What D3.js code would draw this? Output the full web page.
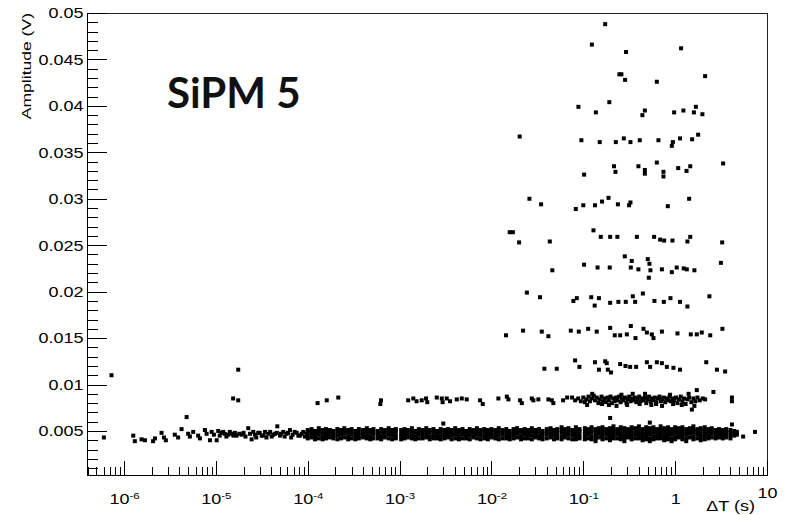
<!DOCTYPE html>
<html>
<head>
<meta charset="utf-8">
<script src="https://cdn.jsdelivr.net/npm/d3@7"></script>
<style>
  body { margin: 0; background: #fff; }
  svg { display: block; }
  .axis text { font-family: "Liberation Sans", Arial, sans-serif; font-size: 15px; fill: #000; }
  .axis line, .axis path { stroke: #000; shape-rendering: crispEdges; }
</style>
</head>
<body>
<svg id="chart"></svg>
<script>
// tick labels
const xMajorTicks = [1e-6, 1e-5, 1e-4, 1e-3, 1e-2, 1e-1, 1, 10];
const xTickLabels = [["10", "-6"], ["10", "-5"], ["10", "-4"], ["10", "-3"], ["10", "-2"], ["10", "-1"], ["1", ""], ["10", ""]];
const yMajorTicks = [0.005, 0.01, 0.015, 0.02, 0.025, 0.03, 0.035, 0.04, 0.045, 0.05];
const yTickLabels = ["0.005", "0.01", "0.015", "0.02", "0.025", "0.03", "0.035", "0.04", "0.045", "0.05"];

// [dT (s), amplitude (V)] -- isolated points
const isolatedPts = [
  [6.03e-7, .0043], [7.3e-7, .011], [1.75e-5, .0116], [1.54e-5, .0085], [1.75e-5, .0083], [4.8e-6, .0065],
  [5.5, .0044], [7.4, .0049], [0.196, .0064], [0.53, .0059], [4.15, .0057], [2.99e-3, .0058]
];

// sparse start of the baseline band (1e-6 .. 1e-4)
const tailPts = [
  [1.26e-6, .0045], [1.31e-6, .0039], [1.55e-6, .0041], [1.69e-6, .004], [2.07e-6, .0039], [2.17e-6, .0042],
  [2.56e-6, .0048], [2.72e-6, .0043], [2.85e-6, .004], [3.57e-6, .0046], [3.88e-6, .0043], [4.23e-6, .0052],
  [4.99e-6, .0047], [5.21e-6, .0044], [5.66e-6, .0049], [6.41e-6, .0045], [6.7e-6, .0042], [7.59e-6, .0051],
  [7.92e-6, .0047], [8.61e-6, .004], [8.98e-6, .0049], [9.51e-6, .0046], [1.02e-5, .004], [1.06e-5, .005],
  [1.15e-5, .0048], [1.25e-5, .0047], [1.36e-5, .0046], [1.48e-5, .0047], [1.61e-5, .0048], [1.68e-5, .0045],
  [1.91e-5, .0046], [2.25e-5, .0053], [2.35e-5, .0047], [2.45e-5, .0041], [2.66e-5, .0046], [2.89e-5, .0048],
  [3.15e-5, .0045], [3.42e-5, .0049], [3.72e-5, .0047], [4.05e-5, .0044], [4.4e-5, .0047], [4.66e-5, .0055],
  [4.98e-5, .0045], [5.41e-5, .0049], [5.89e-5, .0047], [6.4e-5, .0051], [6.85e-5, .0046], [7.57e-5, .0048],
  [8.22e-5, .0045], [8.94e-5, .0049], [9.72e-5, .0047],
  [1.1e-5, .0045], [1.2e-5, .0049], [1.3e-5, .0044], [1.42e-5, .0049], [1.55e-5, .0045], [1.8e-5, .0047],
  [2.0e-5, .0048], [2.1e-5, .0044], [2.55e-5, .0049], [2.75e-5, .0043], [3.0e-5, .0048], [3.3e-5, .0045],
  [3.55e-5, .0043], [3.9e-5, .0049], [4.2e-5, .0046], [4.6e-5, .0048], [5.1e-5, .0047], [5.6e-5, .0044],
  [6.1e-5, .0048], [6.6e-5, .0043], [7.2e-5, .0049], [7.9e-5, .0045], [8.6e-5, .0047], [9.3e-5, .0044]
];

// dense baseline band: [dT, amplitudes...]
const bandCols = [
  [1.0e-4, .0051, .0048, .0045, .0042], [1.1e-4, .0052, .0049, .0046, .0043], [1.2e-4, .0050, .0047, .0044, .0041],
  [1.32e-4, .0053, .0049, .0046, .0042], [1.45e-4, .0051, .0048, .0044, .0041], [1.58e-4, .0052, .0048, .0045, .0042],
  [1.74e-4, .0051, .0049, .0046, .0043], [1.9e-4, .0050, .0047, .0045, .0042], [2.1e-4, .0052, .0049, .0045, .0041],
  [2.3e-4, .0051, .0048, .0046, .0042], [2.5e-4, .0053, .0050, .0047, .0043], [2.75e-4, .0051, .0048, .0044, .0041],
  [3.0e-4, .0052, .0049, .0046, .0042], [3.3e-4, .0050, .0047, .0044, .0041], [3.6e-4, .0052, .0048, .0045, .0042],
  [4.0e-4, .0051, .0049, .0046, .0043], [4.4e-4, .0053, .0049, .0045, .0042], [4.8e-4, .0051, .0048, .0044, .0041],
  [5.2e-4, .0052, .0049, .0046, .0042], [5.8e-4, .0050, .0048, .0045, .0042], [6.3e-4, .0052, .0048, .0044, .0041],
  [6.9e-4, .0051, .0049, .0046, .0043], [7.6e-4, .0053, .0050, .0046, .0042], [8.3e-4, .0051, .0048, .0045, .0041],
  [9.1e-4, .0052, .0049, .0045, .0042],
  [1.04e-3, .0051, .0047, .0044, .0041], [1.13e-3, .0052, .0048, .0045, .0042], [1.23e-3, .0051, .0049, .0046, .0043],
  [1.36e-3, .0053, .0049, .0045, .0042], [1.48e-3, .0050, .0048, .0044, .0041], [1.62e-3, .0052, .0049, .0046, .0042],
  [1.78e-3, .0051, .0048, .0045, .0042], [1.95e-3, .0053, .0050, .0046, .0043], [2.13e-3, .0051, .0048, .0044, .0041],
  [2.34e-3, .0052, .0049, .0045, .0042], [2.56e-3, .0050, .0047, .0045, .0042], [2.8e-3, .0052, .0048, .0044, .0041],
  [3.07e-3, .0051, .0048, .0045, .0042], [3.36e-3, .0052, .0049, .0046, .0043], [3.68e-3, .0051, .0048, .0045, .0041],
  [4.03e-3, .0053, .0049, .0046, .0042], [4.42e-3, .0051, .0048, .0044, .0041], [4.84e-3, .0052, .0049, .0046, .0042],
  [5.3e-3, .0050, .0047, .0045, .0042], [5.8e-3, .0052, .0049, .0045, .0041], [6.35e-3, .0051, .0048, .0046, .0043],
  [6.95e-3, .0053, .0050, .0046, .0042], [7.6e-3, .0051, .0048, .0045, .0041], [8.35e-3, .0052, .0049, .0045, .0042],
  [9.15e-3, .0051, .0047, .0044, .0041],
  [1.0e-2, .0052, .0049, .0046, .0043], [1.1e-2, .0051, .0048, .0045, .0042], [1.2e-2, .0053, .0049, .0045, .0041],
  [1.32e-2, .0051, .0048, .0046, .0042], [1.45e-2, .0052, .0049, .0045, .0042], [1.58e-2, .0050, .0047, .0044, .0041],
  [1.74e-2, .0052, .0048, .0045, .0042], [1.9e-2, .0053, .0050, .0047, .0043], [2.1e-2, .0051, .0048, .0044, .0041],
  [2.3e-2, .0052, .0049, .0046, .0042], [2.5e-2, .0051, .0048, .0045, .0042], [2.75e-2, .0053, .0049, .0045, .0041],
  [3.0e-2, .0051, .0048, .0046, .0043], [3.3e-2, .0052, .0049, .0045, .0042], [3.6e-2, .0050, .0047, .0044, .0041],
  [4.0e-2, .0052, .0049, .0046, .0042], [4.4e-2, .0053, .0050, .0046, .0043], [4.8e-2, .0051, .0048, .0045, .0041],
  [5.2e-2, .0052, .0049, .0045, .0042], [5.8e-2, .0054, .0051, .0048, .0044, .0041], [6.3e-2, .0052, .0049, .0046, .0043],
  [6.9e-2, .0053, .0050, .0046, .0042], [7.6e-2, .0051, .0048, .0045, .0041], [8.3e-2, .0054, .0050, .0047, .0044, .0041],
  [9.1e-2, .0052, .0049, .0045, .0042],
  [0.104, .0053, .0050, .0047, .0044, .0041], [0.113, .0052, .0049, .0046, .0042], [0.123, .0054, .0051, .0048, .0044, .0041],
  [0.136, .0052, .0049, .0045, .0042, .0039], [0.148, .0053, .0050, .0047, .0043], [0.162, .0054, .0051, .0047, .0044, .0041],
  [0.178, .0052, .0049, .0046, .0042], [0.195, .0053, .0050, .0046, .0043, .0040], [0.213, .0055, .0051, .0048, .0045, .0042],
  [0.234, .0052, .0049, .0046, .0042], [0.256, .0054, .0050, .0047, .0044, .0041], [0.28, .0053, .0049, .0045, .0042, .0039],
  [0.307, .0052, .0049, .0046, .0043], [0.336, .0054, .0051, .0047, .0044, .0041], [0.368, .0053, .0050, .0046, .0042],
  [0.403, .0055, .0051, .0048, .0045, .0042], [0.442, .0052, .0049, .0046, .0043, .0040], [0.484, .0054, .0050, .0047, .0044, .0041],
  [0.53, .0053, .0049, .0046, .0042, .0039], [0.58, .0054, .0051, .0048, .0044, .0041], [0.635, .0052, .0049, .0045, .0042],
  [0.695, .0055, .0051, .0048, .0045, .0042], [0.76, .0053, .0050, .0046, .0043, .0040], [0.835, .0054, .0050, .0047, .0044, .0041],
  [0.915, .0052, .0049, .0046, .0042, .0039],
  [1.0, .0054, .0051, .0048, .0044, .0041], [1.1, .0053, .0050, .0046, .0043], [1.2, .0054, .0050, .0047, .0044, .0041],
  [1.32, .0052, .0049, .0046, .0042, .0039], [1.45, .0053, .0050, .0047, .0043], [1.58, .0055, .0051, .0048, .0044, .0041],
  [1.74, .0052, .0049, .0046, .0042], [1.9, .0053, .0050, .0046, .0043, .0040], [2.1, .0054, .0050, .0047, .0044, .0041],
  [2.3, .0052, .0049, .0045, .0042], [2.5, .0053, .0050, .0047, .0043], [2.75, .0051, .0048, .0045, .0042],
  [3.0, .0052, .0049, .0046, .0043], [3.3, .0051, .0048, .0045, .0042], [3.6, .0052, .0049, .0046, .0043],
  [4.0, .0051, .0048, .0045, .0042], [4.4, .0050, .0047, .0045], [4.7, .0049, .0046]
];

// second band around 8 mV
const row8Pts = [
  [1.28e-4, .008], [1.61e-4, .0083], [2.15e-4, .0086], [6.27e-4, .0083], [6.17e-4, .0079], [1.24e-3, .0083],
  [1.41e-3, .0085], [1.53e-3, .0082], [1.74e-3, .0083], [1.94e-3, .0085], [2.0e-3, .0081], [2.54e-3, .0086],
  [2.88e-3, .0085], [3.26e-3, .0085], [2.94e-3, .0081], [3.54e-3, .0082], [4.19e-3, .0084], [4.75e-3, .0085],
  [5.38e-3, .0084], [7.52e-3, .0083], [8.04e-3, .0079], [1.19e-2, .0085], [1.47e-2, .0087], [1.53e-2, .0084],
  [2.05e-2, .0083], [2.14e-2, .008], [2.75e-2, .0085], [2.86e-2, .0083], [3.24e-2, .0084], [4.17e-2, .0084],
  [4.54e-2, .0083], [4.72e-2, .008], [6.03e-2, .0083], [6.67e-2, .0086], [7.55e-2, .0086], [8.14e-2, .0083],
  [0.088, .0085], [0.094, .0082], [0.1, .0086], [0.104, .0081], [0.108, .0084], [0.114, .0087], [0.118, .0082],
  [0.124, .0085], [0.13, .0088], [0.134, .0083], [0.14, .0086], [0.146, .008], [0.15, .0084], [0.158, .0087],
  [0.164, .0082], [0.17, .0085], [0.178, .0081], [0.184, .0086], [0.19, .0083], [0.198, .0087], [0.205, .008],
  [0.212, .0085], [0.22, .0082], [0.228, .0086], [0.236, .0083], [0.245, .0087], [0.255, .0081], [0.264, .0085],
  [0.274, .0083], [0.284, .0086], [0.295, .008], [0.305, .0084], [0.316, .0087], [0.328, .0082], [0.34, .0085],
  [0.352, .0083], [0.365, .0086], [0.378, .0081], [0.392, .0084], [0.406, .0087], [0.42, .0082], [0.436, .0085],
  [0.452, .0083], [0.468, .0086], [0.485, .008], [0.5, .0084], [0.52, .0087], [0.54, .0082], [0.56, .0085],
  [0.58, .0083], [0.6, .0086], [0.625, .0081], [0.65, .0085], [0.675, .0087], [0.7, .0082], [0.725, .0084],
  [0.75, .0086], [0.78, .0081], [0.81, .0085], [0.84, .0083], [0.87, .0087], [0.9, .0082], [0.94, .0085],
  [0.98, .0083], [1.02, .0086], [1.06, .008], [1.1, .0084], [1.15, .0087], [1.2, .0082], [1.25, .0085],
  [1.3, .0079], [1.36, .0084], [1.42, .0086], [1.5, .0081], [1.52, .0073], [1.58, .0085], [1.66, .0082],
  [1.72, .0094], [1.75, .0086], [1.85, .0083], [2.0, .0085], [2.12, .0084], [2.61, .0092], [4.15, .0086], [4.15, .0082],
  [0.11, .0078], [0.16, .0079], [0.23, .0077], [0.3, .0078], [0.41, .0079], [0.55, .0078], [0.72, .0077],
  [0.95, .0079], [1.18, .0078], [0.125, .009], [0.26, .0089], [0.47, .009], [0.88, .0089], [1.4, .009],
  [0.19, .0078], [0.62, .0079], [1.62, .0077], [0.345, .009]
];

// upper levels (10 mV .. 50 mV)
const upperPts = [
  [0.173, .0488], [0.124, .0466], [0.292, .0458], [1.16, .0462],
  [0.247, .0434], [0.26, .0434], [0.285, .0428], [0.632, .0426], [2.12, .0432],
  [0.0203, .0367],
  [0.0885, .0399], [0.137, .0393], [0.192, .0404], [0.468, .0395], [0.44, .039], [0.975, .0393], [1.23, .0395],
  [1.68, .0399], [1.6, .0393], [1.98, .0391],
  [0.0953, .0363], [0.151, .0361], [0.226, .0361], [0.276, .0365], [0.326, .0361], [0.412, .0363], [0.658, .0363],
  [0.944, .0361], [0.92, .0357], [1.13, .0365], [1.53, .0364], [1.78, .0369],
  [0.216, .0335], [0.224, .0329], [0.102, .0326], [0.398, .0335], [0.468, .0331], [0.468, .0327], [0.632, .0339],
  [0.746, .0329], [0.746, .0324], [1.08, .0333], [1.33, .033], [1.46, .0335], [3.33, .0338],
  [0.0259, .03], [0.188, .0301], [1.42, .03], [0.0347, .0294], [0.0828, .0289], [0.1, .0293], [0.134, .0293],
  [0.16, .0297], [0.238, .0294], [0.315, .0293], [0.326, .0296], [0.832, .0292],
  [0.0158, .0264], [0.0171, .0264], [0.02, .0253], [0.0432, .0254], [0.129, .0266], [0.155, .0259], [0.196, .0259],
  [0.235, .0259], [0.383, .0259], [0.59, .0259], [0.687, .0256], [0.759, .0255], [0.935, .0255], [1.46, .0259],
  [1.36, .0254], [3.25, .0253],
  [0.046, .0223], [0.102, .0229], [0.143, .0226], [0.194, .0226], [0.283, .0238], [0.337, .0233], [0.329, .0226],
  [0.398, .0224], [0.504, .0235], [0.525, .023], [0.538, .0223], [0.517, .0215], [0.717, .0224], [0.92, .0221],
  [1.04, .0226], [1.24, .0225], [1.34, .0224], [1.62, .0223], [3.15, .0231],
  [0.0243, .0199], [0.0338, .0194], [0.078, .019], [0.085, .0193], [0.122, .0194], [0.133, .0185], [0.148, .0193],
  [0.196, .0188], [0.241, .0189], [0.29, .0189], [0.346, .0195], [0.367, .0189], [0.445, .0198], [0.595, .019],
  [0.753, .0189], [0.889, .0193], [1.13, .0189], [1.36, .0184], [2.36, .0195],
  [0.0144, .0153], [0.0221, .0158], [0.0353, .0157], [0.0417, .0152], [0.0731, .0158], [0.0893, .0157], [0.113, .016],
  [0.14, .0157], [0.196, .0161], [0.22, .0153], [0.252, .0153], [0.298, .0154], [0.329, .0163], [0.37, .015],
  [0.452, .016], [0.492, .0156], [0.557, .0154], [0.581, .015], [0.717, .0157], [1.06, .0155], [1.48, .0154],
  [1.72, .0154], [1.95, .0156], [2.41, .0153], [3.27, .016],
  [0.0377, .0117], [0.0514, .0117], [0.0814, .0126], [0.0907, .0119], [0.134, .0124], [0.148, .0116], [0.173, .0125],
  [0.18, .0123], [0.185, .0116], [0.2, .0113], [0.252, .0122], [0.288, .012], [0.324, .0119], [0.376, .0119],
  [0.492, .0124], [0.534, .0119], [0.632, .0124], [0.717, .0123], [0.812, .0119], [0.958, .0118], [1.13, .0116],
  [2.18, .0124], [2.85, .0116], [3.5, .0114]
];

const width = 794;
const height = 515;
const margin = { top: 13, right: 27, bottom: 40, left: 87 };
const markerSize = 4;

const svg = d3.select("#chart").attr("width", width).attr("height", height);

const xScale = d3.scaleLog()
  .domain([3.95e-7, 10])
  .range([margin.left, width - margin.right]);

const yScale = d3.scaleLinear()
  .domain([0.00026, 0.05])
  .range([height - margin.bottom, margin.top]);

// all points in one list
let points = [];
isolatedPts.concat(tailPts, row8Pts, upperPts).forEach((p) => points.push({ t: p[0], a: p[1] }));
bandCols.forEach((c) => {
  c.slice(1).forEach((a) => points.push({ t: c[0], a: a }));
});

svg.append("g")
  .selectAll("rect")
  .data(points)
  .enter()
  .append("rect")
  .attr("x", (d) => xScale(d.t) - markerSize / 2)
  .attr("y", (d) => yScale(d.a) - markerSize / 2)
  .attr("width", markerSize)
  .attr("height", markerSize)
  .attr("fill", "#000");

// frame (top and right)
svg.append("path")
  .attr("d", `M${margin.left},${margin.top}H${width - margin.right}V${height - margin.bottom}`)
  .attr("fill", "none")
  .attr("stroke", "#222")
  .attr("stroke-width", 1)
  .attr("shape-rendering", "crispEdges");

// y axis: minor then major ticks
const yMinor = d3.range(1, 50).map((k) => k / 1000).filter((v) => Math.round(v * 1000) % 5 !== 0);
svg.append("g")
  .attr("class", "axis")
  .attr("transform", `translate(${margin.left},0)`)
  .call(d3.axisLeft(yScale).tickValues(yMinor).tickSize(-11).tickFormat(""))
  .call((g) => g.select(".domain").remove());

const yAxis = svg.append("g")
  .attr("class", "axis")
  .attr("transform", `translate(${margin.left},0)`)
  .call(d3.axisLeft(yScale)
    .tickValues(yMajorTicks)
    .tickSizeInner(-20)
    .tickSizeOuter(0)
    .tickPadding(3)
    .tickFormat((d, i) => yTickLabels[i]));
yAxis.attr("font-family", null).attr("font-size", null);
yAxis.selectAll(".tick text").attr("transform", "scale(1.2,1)");

// x axis: minor then major ticks
let xMinor = [];
for (let e = -7; e <= 0; e++) {
  for (let m = 2; m <= 9; m++) {
    const v = m * Math.pow(10, e);
    if (v > 3.95e-7 && v < 10) xMinor.push(v);
  }
}
svg.append("g")
  .attr("class", "axis")
  .attr("transform", `translate(0,${height - margin.bottom})`)
  .call(d3.axisBottom(xScale).tickValues(xMinor).tickSize(-8).tickFormat(""))
  .call((g) => g.select(".domain").remove());

const xAxis = svg.append("g")
  .attr("class", "axis")
  .attr("transform", `translate(0,${height - margin.bottom})`)
  .call(d3.axisBottom(xScale)
    .tickValues(xMajorTicks)
    .tickSizeInner(-14)
    .tickSizeOuter(0)
    .tickPadding(18)
    .tickFormat(""));
xAxis.attr("font-family", null).attr("font-size", null);

xAxis.selectAll(".tick text").each(function (d, i) {
  const t = d3.select(this);
  t.text(null).attr("transform", "scale(1.2,1)");
  t.append("tspan").text(xTickLabels[i][0]);
  if (xTickLabels[i][1]) {
    t.append("tspan").attr("dy", "-0.45em").attr("font-size", "9.5px").text(xTickLabels[i][1]);
  }
  if (i === xMajorTicks.length - 1) t.attr("y", 12);
});

// axis titles
svg.append("text")
  .attr("class", "axis-label")
  .attr("transform", `translate(755,511) scale(1.2,1)`)
  .attr("text-anchor", "end")
  .attr("font-family", "Liberation Sans, Arial, sans-serif")
  .attr("font-size", 15)
  .text("\u0394T (s)");

svg.append("text")
  .attr("class", "axis-label")
  .attr("transform", `translate(31,${margin.top}) rotate(-90) scale(1.3,1)`)
  .attr("text-anchor", "end")
  .attr("font-family", "Liberation Sans, Arial, sans-serif")
  .attr("font-size", 13.5)
  .text("Amplitude (V)");

// label inside the plot
svg.append("text")
  .attr("x", 167)
  .attr("y", 108)
  .attr("font-family", "Lato, 'Open Sans', sans-serif")
  .attr("font-weight", 700)
  .attr("font-size", 42)
  .attr("fill", "#111")
  .text("SiPM 5");
</script>
</body>
</html>
